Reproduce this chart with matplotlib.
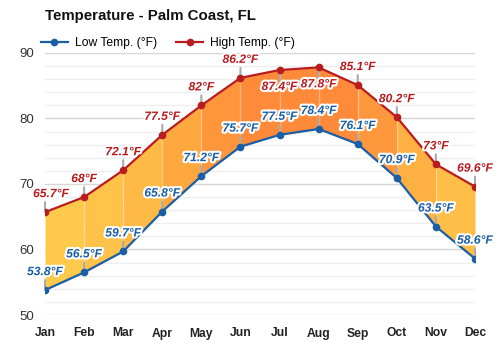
import numpy as np
import matplotlib
matplotlib.use("Agg")
import matplotlib.pyplot as plt
import matplotlib.patheffects as pe
from matplotlib.colors import LinearSegmentedColormap

months = ["Jan", "Feb", "Mar", "Apr", "May", "Jun", "Jul", "Aug", "Sep", "Oct", "Nov", "Dec"]
low_temp = [53.8, 56.5, 59.7, 65.8, 71.2, 75.7, 77.5, 78.4, 76.1, 70.9, 63.5, 58.6]
high_temp = [65.7, 68, 72.1, 77.5, 82, 86.2, 87.4, 87.8, 85.1, 80.2, 73, 69.6]
high_below = ["Jul", "Aug"]  # high labels drawn under the point

plt.rcParams["font.family"] = ["Liberation Sans", "DejaVu Sans"]

low_col = "#1a5ea6"
high_col = "#b81c1f"

fig = plt.figure(figsize=(5, 3.5), dpi=100)
ax = fig.add_axes([0.09, 0.1, 0.86, 0.7486])

x = np.arange(len(months))

# filled band, one colour per month segment
cmap = LinearSegmentedColormap.from_list("temp", ["#ffca4c", "#ffb343", "#ff8b3a"])
for i in range(len(months) - 1):
    mean_t = (low_temp[i] + low_temp[i + 1] + high_temp[i] + high_temp[i + 1]) / 4
    c = cmap(np.clip((mean_t - 61) / (81.5 - 61), 0, 1))
    ax.fill_between(x[i:i + 2], low_temp[i:i + 2], high_temp[i:i + 2],
                    color=c, lw=0, zorder=1)
ax.vlines(x[1:-1], low_temp[1:-1], high_temp[1:-1], color="white", alpha=0.25, lw=1, zorder=1.5)

ax.plot(x, low_temp, color=low_col, lw=1.6, marker="o", ms=4.5, label="Low Temp. (°F)", zorder=3)
ax.plot(x, high_temp, color=high_col, lw=1.6, marker="o", ms=4.5, label="High Temp. (°F)", zorder=3)

stroke = [pe.withStroke(linewidth=3, foreground="white")]

def label(xi, yi, txt, col, below=False, dx=0):
    off = -17 if below else 18
    stem = -10 if below else 10
    ax.annotate("", xy=(xi, yi), xytext=(0, stem), textcoords="offset pixels",
                arrowprops=dict(arrowstyle="-", color="#aaaaaa", lw=1.5, shrinkA=0, shrinkB=0),
                zorder=2)
    ax.annotate(txt, xy=(xi, yi), xytext=(dx, off), textcoords="offset pixels",
                ha="center", va="center", color=col, fontsize=8.7, fontweight="bold",
                fontstyle="italic", path_effects=stroke, zorder=4)

for i, m in enumerate(months):
    label(x[i], low_temp[i], f"{low_temp[i]:g}°F", low_col)
    label(x[i], high_temp[i], f"{high_temp[i]:g}°F", high_col,
          below=m in high_below, dx=6 if i == 0 else 0)

ax.set_xlim(0, 11)
ax.set_ylim(50, 90)
ax.set_yticks([50, 60, 70, 80, 90])
ax.set_yticks(np.arange(50, 91, 2), minor=True)
ax.grid(axis="y", which="major", color="#d6d6d6", lw=1, zorder=0)
ax.grid(axis="y", which="minor", color="#eeeeee", lw=1, zorder=0)
ax.set_axisbelow(True)
ax.set_xticks(x)
ax.set_xticklabels(months, fontweight="bold", fontsize=8.7, color="#222222")
ax.tick_params(axis="both", length=0)
ax.tick_params(axis="y", which="minor", length=0)
ax.tick_params(axis="x", pad=9)
ax.tick_params(axis="y", pad=8, labelsize=9.5, labelcolor="#333333")
for s in ax.spines.values():
    s.set_visible(False)

fig.text(0.09, 0.955, "Temperature - Palm Coast, FL", fontsize=10.8, fontweight="bold",
         ha="left", va="center", color="#111111")
ax.legend(loc="lower left", bbox_to_anchor=(-0.015, 1.005), ncol=2, frameon=False,
          fontsize=8.7, handlelength=2.2, handletextpad=0.6, columnspacing=1.6,
          borderaxespad=0, borderpad=0.2)

fig.savefig("out.png", dpi=100)
